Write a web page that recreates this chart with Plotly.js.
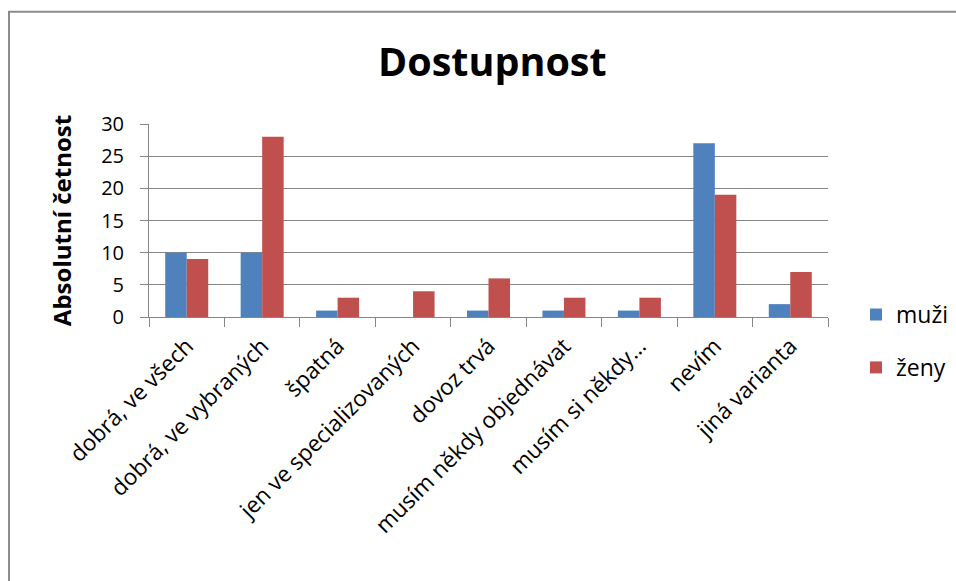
<!DOCTYPE html>
<html>
<head>
<meta charset="utf-8">
<script src="https://cdn.plot.ly/plotly-3.0.1.min.js"></script>
<style>html,body{margin:0;padding:0;background:#fff;}#chart{width:956px;height:581px;}</style>
</head>
<body>
<div id="chart"></div>
<script>
const categories = ["dobrá, ve všech", "dobrá, ve vybraných", "špatná", "jen ve specializovaných", "dovoz trvá", "musím někdy objednávat", "musím si někdy…", "nevím", "jiná varianta"];
const muzi = [10, 10, 1, 0, 1, 1, 1, 27, 2];
const zeny = [9, 28, 3, 4, 6, 3, 3, 19, 7];
const seriesNames = ["muži", "ženy"];
const yTicks = [0, 5, 10, 15, 20, 25, 30];

const FONT = "'Open Sans', Lato, sans-serif";
const W = 956, H = 581;
const L = 149, R = 828, T = 123.5, B = 317;
const pw = R - L, ph = B - T;
const px2x = p => (p - L) / pw;
const px2y = p => (B - p) / ph;

const traces = [
  {type: "bar", name: seriesNames[0], x: categories, y: muzi, legendgroup: "a",
   marker: {color: "#4F81BD", line: {width: 0}}, hoverinfo: "x+y"},
  {type: "bar", name: seriesNames[1], x: categories, y: zeny, legendgroup: "b",
   marker: {color: "#C0504D", line: {width: 0}}, hoverinfo: "x+y"}
];

const layout = {
  width: W, height: H,
  margin: {l: L, r: W - R, t: T, b: H - B, pad: 0, autoexpand: false},
  paper_bgcolor: "#ffffff", plot_bgcolor: "#ffffff",
  barmode: "group", bargap: 0.43, bargroupgap: 0,
  title: {text: "<b>Dostupnost</b>", font: {family: FONT, size: 39.5, color: "#000"},
          x: 0.515, xanchor: "center", y: 1 - 62 / H, yanchor: "middle"},
  xaxis: {
    type: "category", tickangle: -45, tickson: "boundaries",
    ticks: "outside", ticklen: 9, tickcolor: "#868686", tickwidth: 1,
    ticklabelstandoff: 6,
    showline: true, linecolor: "#868686", linewidth: 1,
    showgrid: false, tickfont: {family: FONT, size: 22.5, color: "#000"},
    automargin: false
  },
  yaxis: {
    range: [0, 30], tickvals: yTicks, ticktext: yTicks.map(String),
    ticks: "outside", ticklen: 8, tickcolor: "#868686", tickwidth: 1,
    ticklabelstandoff: 12,
    showline: true, linecolor: "#868686", linewidth: 1,
    showgrid: true, gridcolor: "#868686", gridwidth: 1, zeroline: false,
    tickfont: {family: FONT, size: 20, color: "#000"},
    title: {text: "<b>Absolutní četnost</b>", font: {family: FONT, size: 24, color: "#000"}, standoff: 22},
    automargin: false
  },
  showlegend: true,
  legend: {x: px2x(856), xanchor: "left", y: px2y(293), yanchor: "top",
           traceorder: "grouped", tracegroupgap: 20,
           font: {family: FONT, size: 23, color: "#000"}, bgcolor: "rgba(0,0,0,0)"},
  shapes: [
    {type: "line", xref: "paper", yref: "paper", x0: px2x(9), x1: px2x(9), y0: px2y(600), y1: px2y(11),
     line: {color: "#8c8c8c", width: 2}},
    {type: "line", xref: "paper", yref: "paper", x0: px2x(8), x1: px2x(980), y0: px2y(11), y1: px2y(11),
     line: {color: "#8c8c8c", width: 2}}
  ]
};

Plotly.newPlot("chart", traces, layout, {displayModeBar: false, staticPlot: true});
</script>
</body>
</html>
